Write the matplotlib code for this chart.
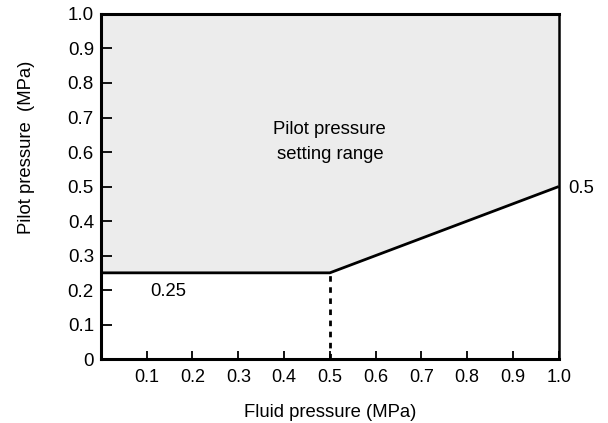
import matplotlib
matplotlib.use("Agg")
import matplotlib.pyplot as plt
from matplotlib import font_manager

# Boundary of the pilot pressure setting range
fluid_pts = [0.0, 0.5, 1.0]
pilot_pts = [0.25, 0.25, 0.5]
knee_x = 0.5
knee_y = 0.25

x_ticks = [0.1, 0.2, 0.3, 0.4, 0.5, 0.6, 0.7, 0.8, 0.9, 1.0]
y_ticks = [0, 0.1, 0.2, 0.3, 0.4, 0.5, 0.6, 0.7, 0.8, 0.9, 1.0]

plt.rcParams['font.family'] = ['Liberation Sans', 'DejaVu Sans']

names = {f.name for f in font_manager.fontManager.ttflist}
narrow = 'Liberation Sans Narrow' if 'Liberation Sans Narrow' in names else 'Liberation Sans'

fig = plt.figure(figsize=(6.08, 4.23), dpi=100)
ax = fig.add_axes([0.166, 0.151, 0.753, 0.816])

# shaded region above the boundary
poly_x = fluid_pts + [1.0, 0.0]
poly_y = pilot_pts + [1.0, 1.0]
ax.fill(poly_x, poly_y, color='#ececec', lw=0, zorder=1)

ax.plot(fluid_pts, pilot_pts, color='black', lw=2.0, zorder=3, solid_capstyle='butt')
ax.plot([knee_x, knee_x], [0, knee_y], color='black', lw=2.0, ls=(0, (2, 2)), zorder=3)

ax.set_xlim(0, 1.0)
ax.set_ylim(0, 1.0)

ax.set_xticks(x_ticks)
ax.set_xticklabels([f"{v:.1f}" for v in x_ticks], fontsize=13, family=narrow)
ax.set_yticks(y_ticks)
ax.set_yticklabels(['0'] + [f"{v:.1f}" for v in y_ticks[1:]], fontsize=13.5)

ax.tick_params(axis='y', direction='in', length=8, width=1.3, pad=5, right=False)
ax.tick_params(axis='x', direction='in', length=5.5, width=1.3, pad=7, top=False)

for side in ['left', 'bottom', 'top']:
    ax.spines[side].set_linewidth(2.2)
ax.spines['right'].set_linewidth(1.8)
for s in ax.spines.values():
    s.set_zorder(4)

ax.text(0.5, 0.63, "Pilot pressure\nsetting range", ha='center', va='center',
        fontsize=13.3, linespacing=1.6)
ax.text(0.107, 0.195, "0.25", ha='left', va='center', fontsize=13.3)
ax.text(1.02, 0.495, "0.5", ha='left', va='center', fontsize=13.3, clip_on=False)

ax.set_xlabel("Fluid pressure (MPa)", fontsize=13.3, labelpad=13)
ax.set_ylabel("Pilot pressure  (MPa)", fontsize=13.3)
# label sits above the axis centre in the original
ax.yaxis.set_label_coords(-0.145, 0.615)

fig.savefig("out.png", dpi=100)
